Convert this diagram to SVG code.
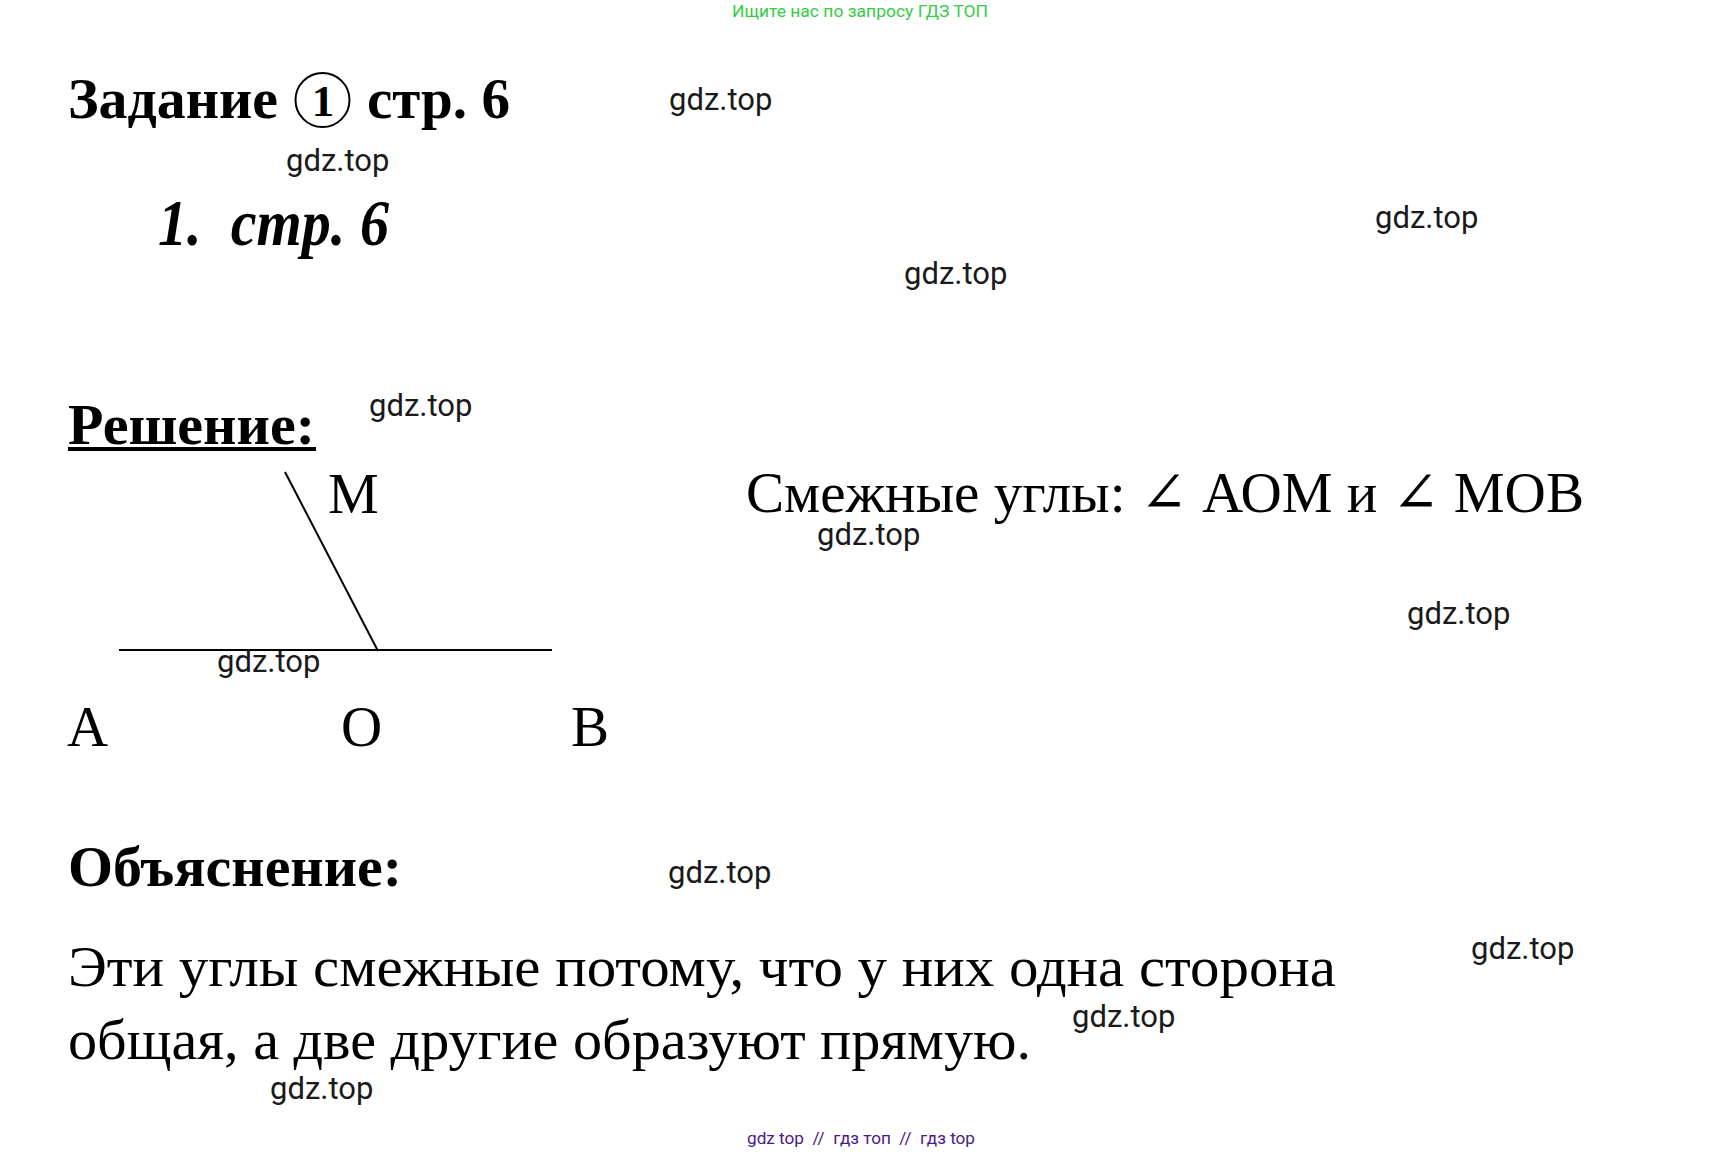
<svg xmlns="http://www.w3.org/2000/svg" width="1722" height="1155" viewBox="0 0 1722 1155">
<style>
.wm{font-family:Roboto,"Liberation Sans",sans-serif;font-size:31px;fill:#1a1a1a}
.hb{font-family:"Liberation Serif",serif;font-weight:bold;font-size:57px;fill:#000}
.tr{font-family:"Liberation Serif","DejaVu Serif",serif;font-size:57px;fill:#000}
.ln{stroke:#000;stroke-width:2;fill:none}
</style>
<rect width="1722" height="1155" fill="#fff"/>
<g id="top-banner">
<text x="860" y="17" text-anchor="middle" font-family="Roboto,'Liberation Sans',sans-serif" font-size="16.5" fill="#33cc44" textLength="256" lengthAdjust="spacingAndGlyphs">Ищите нас по запросу ГДЗ ТОП</text>
</g>
<g id="title">
<text class="hb" x="68" y="118" textLength="210" lengthAdjust="spacingAndGlyphs">Задание</text>
<circle cx="322.5" cy="100" r="27" fill="none" stroke="#000" stroke-width="2"/>
<text x="323" y="116" text-anchor="middle" font-family="'Liberation Serif',serif" font-weight="bold" font-size="45">1</text>
<text class="hb" x="367" y="118" textLength="143" lengthAdjust="spacingAndGlyphs">стр. 6</text>
</g>
<g id="subtitle">
<text x="158" y="245" font-family="'Liberation Serif',serif" font-weight="bold" font-style="italic" font-size="66" textLength="231" lengthAdjust="spacingAndGlyphs" xml:space="preserve">1.  стр. 6</text>
</g>
<g id="solution-heading">
<text class="hb" x="68" y="444" textLength="247" lengthAdjust="spacingAndGlyphs">Решение:</text>
<rect x="68" y="447" width="248" height="4" fill="#000"/>
</g>
<g id="figure">
<line class="ln" x1="285" y1="472" x2="378" y2="651"/>
<line class="ln" x1="119" y1="650" x2="552" y2="650"/>
</g>
<g id="label-M"><text class="tr" x="328" y="513">M</text></g>
<g id="label-A"><text class="tr" x="67" y="746">A</text></g>
<g id="label-O"><text class="tr" x="341" y="746">O</text></g>
<g id="label-B"><text class="tr" x="571" y="746">B</text></g>
<g id="answer">
<text class="tr" x="746" y="512" textLength="838" lengthAdjust="spacingAndGlyphs">Смежные углы: ∠ АОМ и ∠ МОВ</text>
</g>
<g id="explanation-heading">
<text class="hb" x="68" y="886" textLength="334" lengthAdjust="spacingAndGlyphs">Объяснение:</text>
</g>
<g id="explanation">
<text class="tr" x="68" y="986" font-size="58" textLength="1268" lengthAdjust="spacingAndGlyphs">Эти углы смежные потому, что у них одна сторона</text>
<text class="tr" x="68" y="1059" font-size="58" textLength="963" lengthAdjust="spacingAndGlyphs">общая, а две другие образуют прямую.</text>
</g>
<g id="watermarks">
<text class="wm" x="669" y="110">gdz.top</text>
<text class="wm" x="286" y="171">gdz.top</text>
<text class="wm" x="1375" y="228">gdz.top</text>
<text class="wm" x="904" y="284">gdz.top</text>
<text class="wm" x="369" y="416">gdz.top</text>
<text class="wm" x="817" y="545">gdz.top</text>
<text class="wm" x="1407" y="624">gdz.top</text>
<text class="wm" x="217" y="672">gdz.top</text>
<text class="wm" x="668" y="883">gdz.top</text>
<text class="wm" x="1471" y="959">gdz.top</text>
<text class="wm" x="1072" y="1027">gdz.top</text>
<text class="wm" x="270" y="1099">gdz.top</text>
</g>
<g id="footer">
<text x="861" y="1144" text-anchor="middle" font-family="Roboto,'Liberation Sans',sans-serif" font-size="17" fill="#4a1a8a" textLength="228" lengthAdjust="spacingAndGlyphs" xml:space="preserve">gdz top  //  гдз топ  //  гдз top</text>
</g>
</svg>
